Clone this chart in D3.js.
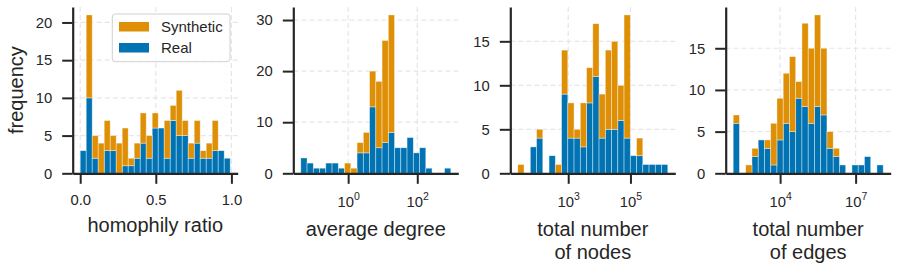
<!DOCTYPE html>
<html>
<head>
<meta charset="utf-8">
<script src="https://cdn.jsdelivr.net/npm/d3@7"></script>
<style>
  body { margin: 0; background: #fff; }
  svg { display: block; font-family: "Liberation Sans", Arial, sans-serif; }
  .tick text { fill: #262626; }
</style>
</head>
<body>
<svg id="chart" width="897" height="269"></svg>
<script>
// counts per bin (Synthetic is stacked on top of Real)
const homophilyReal = [3, 10, 2, 0, 3, 3, 0, 1, 1, 2, 4, 2, 6, 6, 2, 7, 5, 5, 2, 4, 2, 2, 3, 3, 2];
const homophilySynthetic = [0, 11, 3, 4, 4, 2, 4, 5, 1, 2, 4, 3, 2, 0, 5, 2, 6, 2, 2, 3, 1, 2, 4, 0, 0];

const degreeReal = [3, 2, 1, 1, 2, 2, 1, 0, 0, 4, 4, 13, 5, 6, 8, 5, 5, 7, 4, 5, 1, 0, 0, 1];
const degreeSynthetic = [0, 0, 0, 0, 0, 0, 0, 2, 1, 2, 4, 7, 13, 20, 23, 0, 0, 0, 0, 0, 0, 0, 0, 0];

const nodesReal = [0, 0, 3, 4, 0, 2, 0, 9, 4, 4, 3, 8, 11, 4, 5, 5, 6, 4, 2, 2, 1, 1, 1, 1];
const nodesSynthetic = [1, 0, 0, 1, 0, 0, 1, 5, 4, 1, 5, 4, 6, 5, 9, 10, 4, 14, 0, 2, 0, 0, 0, 0];

const edgesReal = [6, 0, 0, 2, 4, 3, 1, 4, 6, 5, 9, 8, 6, 8, 7, 3, 2, 1, 0, 1, 1, 2, 0, 1];
const edgesSynthetic = [1, 0, 1, 1, 0, 1, 5, 5, 6, 9, 2, 10, 9, 11, 8, 2, 1, 0, 0, 0, 0, 0, 0, 0];

// bin range of each histogram (log10 for the log panels)
const homophilyRange = [0, 0.992];
const degreeRange = [-1.37, 2.97];
const nodesRange = [1.38, 6.2];
const edgesRange = [2.136, 8.096];

const yTicks = [[0, 5, 10, 15, 20], [0, 10, 20, 30], [0, 5, 10, 15], [0, 5, 10, 15]];
const xTicks = [[0, 0.5, 1], [1, 100], [1e3, 1e5], [1e4, 1e7]];
const xLabels = [["homophily ratio"], ["average degree"], ["total number", "of nodes"], ["total number", "of edges"]];
const seriesNames = ["Synthetic", "Real"];

const colors = { Real: "#0173B2", Synthetic: "#DE8F05" };
const ink = "#262626";

const panels = [
  { real: homophilyReal, syn: homophilySynthetic, range: homophilyRange, log: false },
  { real: degreeReal, syn: degreeSynthetic, range: degreeRange, log: true },
  { real: nodesReal, syn: nodesSynthetic, range: nodesRange, log: true },
  { real: edgesReal, syn: edgesSynthetic, range: edgesRange, log: true }
];

const svg = d3.select("#chart");
const lefts = [72.7, 293.3, 510.3, 725.7];
const pw = 165, plotTop = 7, plotBottom = 173.3, ph = plotBottom - plotTop;

panels.forEach((p, i) => {
  const g = svg.append("g").attr("transform", `translate(${lefts[i]},${plotTop})`);
  const n = p.real.length;
  const [lo, hi] = p.range;
  const step = (hi - lo) / n;
  const pad = (hi - lo) * 0.05;
  const totals = p.real.map((r, k) => r + p.syn[k]);

  let x, edge;
  if (p.log) {
    x = d3.scaleLog().domain([Math.pow(10, lo - pad), Math.pow(10, hi + pad)]).range([0, pw]);
    edge = k => Math.pow(10, lo + k * step);
  } else {
    x = d3.scaleLinear().domain([lo - pad, hi + pad]).range([0, pw]);
    edge = k => lo + k * step;
  }
  const y = d3.scaleLinear().domain([0, d3.max(totals) * 1.05]).range([ph, 0]);

  // grid
  const grid = g.append("g").attr("stroke", "#e6e6e6").attr("stroke-width", 1.2).attr("stroke-dasharray", "5,3");
  grid.selectAll("line.gx").data(xTicks[i]).join("line")
    .attr("x1", d => x(d)).attr("x2", d => x(d)).attr("y1", 0).attr("y2", ph);
  grid.selectAll("line.gy").data(yTicks[i]).join("line")
    .attr("x1", 0).attr("x2", pw).attr("y1", d => y(d)).attr("y2", d => y(d));

  const bins = d3.range(n).map(k => ({ x0: edge(k), x1: edge(k + 1), real: p.real[k], total: totals[k] }));

  const bars = g.append("g").attr("stroke", "#ffffff").attr("stroke-opacity", 0.55).attr("stroke-width", 0.7);
  bars.selectAll("rect.real").data(bins.filter(b => b.real > 0)).join("rect")
    .attr("x", d => x(d.x0)).attr("width", d => x(d.x1) - x(d.x0))
    .attr("y", d => y(d.real)).attr("height", d => y(0) - y(d.real))
    .attr("fill", colors.Real);
  bars.selectAll("rect.syn").data(bins.filter(b => b.total > b.real)).join("rect")
    .attr("x", d => x(d.x0)).attr("width", d => x(d.x1) - x(d.x0))
    .attr("y", d => y(d.total)).attr("height", d => y(d.real) - y(d.total))
    .attr("fill", colors.Synthetic);

  // axes
  const xAxis = g.append("g").attr("transform", `translate(0,${ph})`)
    .call(d3.axisBottom(x).tickValues(xTicks[i]).tickSize(10.5).tickPadding(11).tickSizeOuter(0)
      .tickFormat(p.log ? () => "" : d3.format(".1f")));
  const yAxis = g.append("g")
    .call(d3.axisLeft(y).tickValues(yTicks[i]).tickSize(10.5).tickPadding(10).tickSizeOuter(0));

  [xAxis, yAxis].forEach(a => {
    a.attr("font-size", 14.8).attr("font-family", null);
    a.select(".domain").attr("stroke", ink).attr("stroke-width", 2.2);
    a.selectAll(".tick line").attr("stroke", ink).attr("stroke-width", 2);
  });

  if (p.log) {
    xAxis.selectAll(".tick text").each(function (d) {
      const t = d3.select(this).attr("dy", null).attr("y", 33.5);
      t.append("tspan").text("10");
      t.append("tspan").attr("font-size", 10.5).attr("dy", -6.5).text(Math.round(Math.log10(d)));
    });
  }

  // x label
  const lab = g.append("text").attr("text-anchor", "middle").attr("fill", ink)
    .attr("font-size", 20).attr("x", pw / 2);
  xLabels[i].forEach((s, j) => {
    lab.append("tspan").attr("x", pw / 2)
      .attr("y", (p.log ? 236 : 232) - plotTop + j * 23.4).text(s);
  });

  if (i === 0) {
    g.append("text").attr("transform", `translate(${23.5 - lefts[0]},${ph / 2}) rotate(-90)`)
      .attr("text-anchor", "middle").attr("fill", ink).attr("font-size", 20).text("frequency");

    const lg = g.append("g").attr("transform", `translate(${112.3 - lefts[0]},${14 - plotTop})`);
    lg.append("rect").attr("width", 117.7).attr("height", 47.7).attr("rx", 3)
      .attr("fill", "#fff").attr("fill-opacity", 0.8).attr("stroke", "#d0d0d0").attr("stroke-width", 1);
    seriesNames.forEach((s, j) => {
      lg.append("rect").attr("x", 6.7).attr("y", 8 + j * 21).attr("width", 30).attr("height", 9.5)
        .attr("fill", colors[s]);
      lg.append("text").attr("x", 48.7).attr("y", 12.8 + j * 21).attr("dy", "0.35em")
        .attr("font-size", 15).attr("fill", ink).text(s);
    });
  }
});
</script>
</body>
</html>
